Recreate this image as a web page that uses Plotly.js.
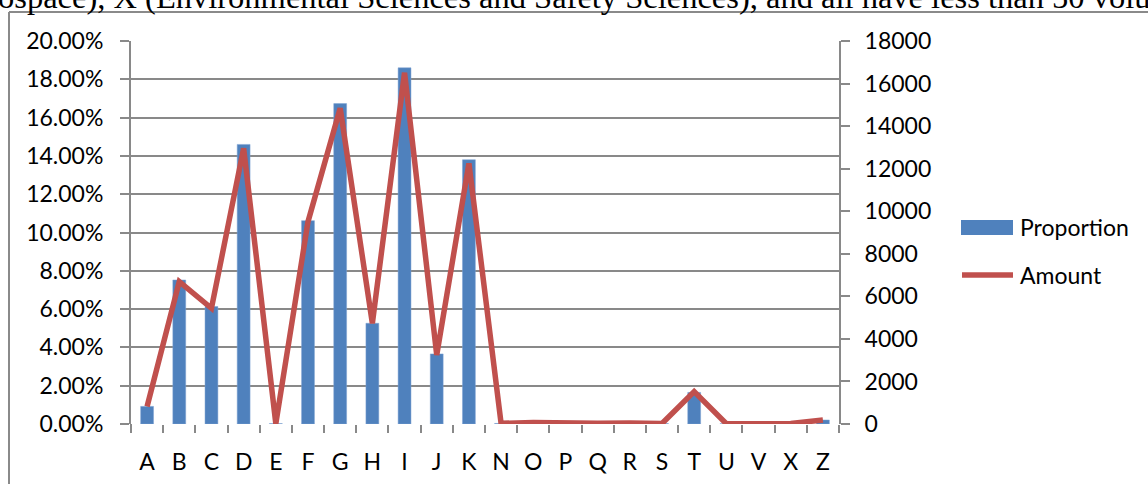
<!DOCTYPE html>
<html>
<head>
<meta charset="utf-8">
<script src="https://cdn.plot.ly/plotly-3.0.1.min.js"></script>
<style>
html,body{margin:0;padding:0;background:#fff;overflow:hidden;}
#chart{width:1148px;height:484px;}
</style>
</head>
<body>
<div id="chart"></div>
<script>
// ---- data ----
var categories = ["A","B","C","D","E","F","G","H","I","J","K","N","O","P","Q","R","S","T","U","V","X","Z"];
var proportion = [0.0092,0.0752,0.0613,0.1460,0.0002,0.1062,0.1673,0.0526,0.1860,0.0366,0.1380,0.0003,0.0008,0.0002,0.0003,0.0006,0.0002,0.0165,0.0001,0.0001,0.0002,0.0021];
var amount = [820,6690,5440,12960,20,9510,14840,4730,16510,3240,12250,30,70,20,30,50,20,1520,10,10,20,190];
var leftTicks = [0,0.02,0.04,0.06,0.08,0.10,0.12,0.14,0.16,0.18,0.20];
var rightTicks = [0,2000,4000,6000,8000,10000,12000,14000,16000,18000];
var seriesNames = ["Proportion","Amount"];
var captionText = "ospace), X (Environmental Sciences and Safety Sciences), and all have less than 50 volu";

// ---- layout geometry (pixels) ----
var W = 1148, H = 484;
var L = 131, R = 839, T = 41, B = 424;
function px(x){ return (x - L) / (R - L); }
function py(y){ return (B - y) / (B - T); }

var gridColor = "#898989";
var barColor = "#4f81bd";
var lineColor = "#c0504d";
var tickFont = {family: "Lato, 'Open Sans', sans-serif", size: 23, color: "#000"};

var traces = [
  {type: "bar", x: categories, y: proportion, name: seriesNames[0],
   marker: {color: barColor, line: {color: "#7ea3d3", width: 0.5}}, yaxis: "y", hoverinfo: "x+y"},
  {type: "scatter", mode: "lines", x: categories, y: amount, name: seriesNames[1],
   line: {color: lineColor, width: 5.5}, yaxis: "y2"}
];

var layout = {
  width: W, height: H,
  margin: {l: L, r: W - R, t: T, b: H - B, pad: 0},
  paper_bgcolor: "#fff", plot_bgcolor: "#fff",
  showlegend: false,
  bargap: 0.6,
  xaxis: {
    type: "category", range: [-0.5, categories.length - 0.5],
    showgrid: false, zeroline: false,
    showline: false,
    ticks: "outside", tickson: "boundaries", ticklen: 8, tickwidth: 2, tickcolor: gridColor,
    tickfont: tickFont, ticklabelstandoff: 22
  },
  yaxis: {
    range: [0, 0.2], tickvals: leftTicks, tickformat: ".2%",
    showgrid: true, gridcolor: gridColor, gridwidth: 2,
    zeroline: false, showline: true, linecolor: gridColor, linewidth: 2,
    ticks: "outside", ticklen: 9, tickwidth: 2, tickcolor: gridColor,
    tickfont: tickFont, ticklabelstandoff: 12, fixedrange: true
  },
  yaxis2: {
    overlaying: "y", side: "right", range: [0, 18000], tickvals: rightTicks, tickformat: "d",
    showgrid: false, zeroline: false, showline: true, linecolor: gridColor, linewidth: 2,
    ticks: "outside", ticklen: 9, tickwidth: 2, tickcolor: gridColor,
    tickfont: tickFont, ticklabelstandoff: 10, fixedrange: true
  },
  shapes: [
    {type: "line", xref: "paper", yref: "paper", x0: px(L), x1: px(L), y0: py(B), y1: py(B + 8), line: {color: gridColor, width: 2}},
    {type: "line", xref: "paper", yref: "paper", x0: px(9), x1: px(9), y0: py(12), y1: py(500), line: {color: "#8a8a8a", width: 2}},
    {type: "line", xref: "paper", yref: "paper", x0: px(9), x1: px(1160), y0: py(12), y1: py(12), line: {color: "#8a8a8a", width: 2}},
    {type: "rect", xref: "paper", yref: "paper", x0: px(961), x1: px(1013), y0: py(235), y1: py(220), fillcolor: barColor, line: {width: 0}},
    {type: "line", xref: "paper", yref: "paper", x0: px(962), x1: px(1013), y0: py(275), y1: py(275), line: {color: lineColor, width: 5.5}}
  ],
  annotations: [
    {xref: "paper", yref: "paper", x: px(1018), y: py(227), xanchor: "left", yanchor: "middle",
     text: seriesNames[0], showarrow: false, font: tickFont},
    {xref: "paper", yref: "paper", x: px(1018), y: py(275), xanchor: "left", yanchor: "middle",
     text: seriesNames[1], showarrow: false, font: tickFont},
    {xref: "paper", yref: "paper", x: px(-3), y: py(16), xanchor: "left", yanchor: "bottom",
     text: captionText, showarrow: false, borderpad: 0,
     font: {family: "'Liberation Serif', 'Times New Roman', serif", size: 32.5, color: "#000"}}
  ]
};

Plotly.newPlot("chart", traces, layout, {displayModeBar: false, staticPlot: true});
</script>
</body>
</html>
